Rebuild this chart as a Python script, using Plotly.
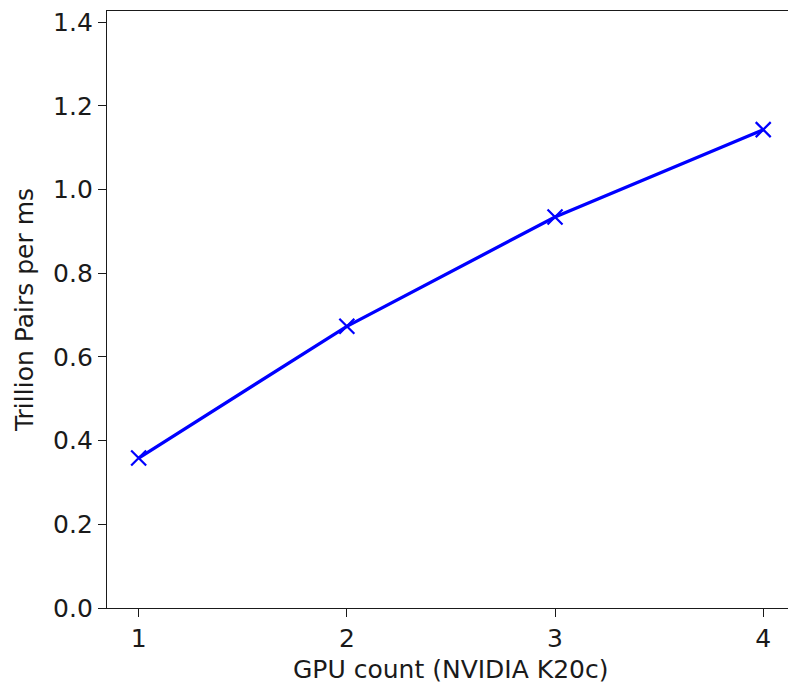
import plotly.graph_objects as go

gpu_count = [1, 2, 3, 4]
trillion_pairs_per_ms = [0.3585, 0.6733, 0.9345, 1.1434]
x_ticks = [1, 2, 3, 4]
y_ticks = [0.0, 0.2, 0.4, 0.6, 0.8, 1.0, 1.2, 1.4]
x_title = "GPU count (NVIDIA K20c)"
y_title = "Trillion Pairs per ms"

W, H = 788, 684
L, R, T, B = 107, 0, 11, 76
pw, ph = W - L - R, H - T - B

fig = go.Figure()
fig.add_trace(go.Scatter(
    x=gpu_count, y=trillion_pairs_per_ms, mode="lines+markers",
    line=dict(color="#0000ff", width=3.3),
    marker=dict(symbol="x-thin", size=15, line=dict(color="#0000ff", width=2.2)),
    showlegend=False,
))

font = dict(family="DejaVu Sans", size=25, color="#1a1a1a")
fig.update_layout(
    width=W, height=H,
    margin=dict(l=L, r=R, t=T, b=B, pad=0),
    paper_bgcolor="white", plot_bgcolor="white",
    font=font,
)
fig.update_xaxes(
    range=[0.848, 4.119], tickvals=x_ticks, ticktext=[str(v) for v in x_ticks],
    showgrid=False, zeroline=False, showline=True, linecolor="#1a1a1a", linewidth=1.4,
    mirror=True, ticks="outside", ticklen=8, tickwidth=1.4, tickcolor="#1a1a1a",
    tickfont=font,
)
fig.update_yaxes(
    range=[0, 1.427], tickvals=y_ticks, ticktext=[f"{v:.1f}" for v in y_ticks],
    showgrid=False, zeroline=False, showline=True, linecolor="#1a1a1a", linewidth=1.4,
    mirror=False, ticks="outside", ticklen=8, tickwidth=1.4, tickcolor="#1a1a1a",
    tickfont=font,
)
fig.add_annotation(
    text=x_title, xref="paper", yref="paper",
    x=(450.5 - L) / pw, y=-(669 - (T + ph)) / ph,
    xanchor="center", yanchor="middle", showarrow=False, font=font,
)
fig.add_annotation(
    text=y_title, xref="paper", yref="paper", textangle=-90,
    x=(24 - L) / pw, y=((T + ph) - 310) / ph,
    xanchor="center", yanchor="middle", showarrow=False, font=font,
)
fig.write_html("out.html")
